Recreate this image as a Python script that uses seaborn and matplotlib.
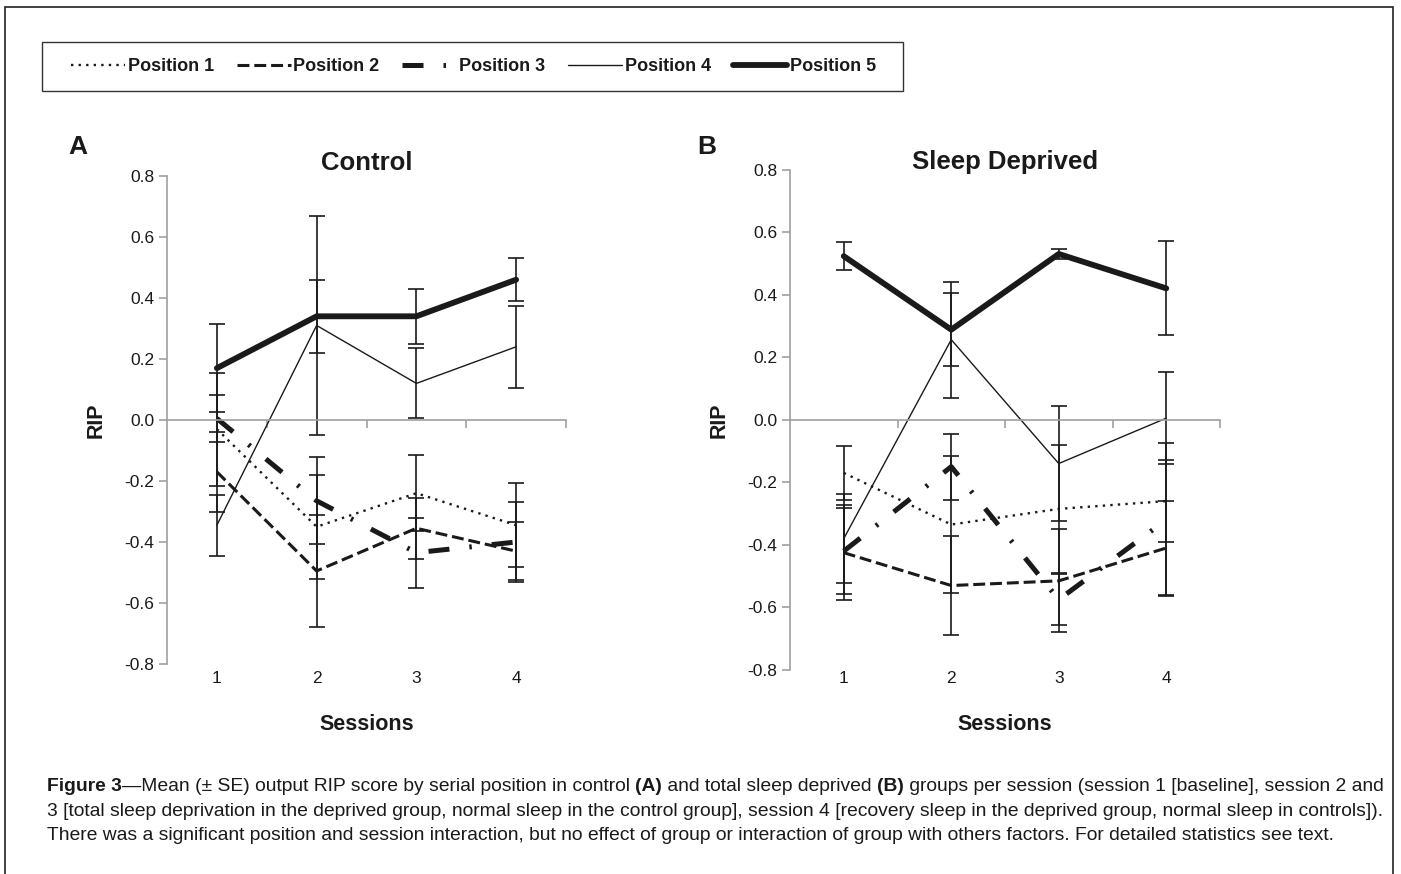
import numpy as np
import pandas as pd
import matplotlib
matplotlib.use("Agg")
import matplotlib.pyplot as plt
import seaborn as sns
from matplotlib import font_manager
from matplotlib.lines import Line2D
from matplotlib.patches import Rectangle

# ---------------- data ----------------
sessions = [1, 2, 3, 4]
positions = ["Position 1", "Position 2", "Position 3", "Position 4", "Position 5"]
ytick_values = [-0.8, -0.6, -0.4, -0.2, 0.0, 0.2, 0.4, 0.6, 0.8]

# Control (A): mean RIP per session, one row per serial position
ctrl_means = [
    [-0.03, -0.35, -0.24, -0.345],
    [-0.17, -0.495, -0.355, -0.43],
    [0.005, -0.265, -0.435, -0.40],
    [-0.345, 0.31, 0.12, 0.24],
    [0.17, 0.34, 0.34, 0.46],
]
ctrl_se = [
    [0.185, 0.17, 0.125, 0.137],
    [0.13, 0.185, 0.10, 0.095],
    [0.078, 0.143, 0.115, 0.13],
    [0.10, 0.36, 0.115, 0.135],
    [0.145, 0.12, 0.09, 0.07],
]
# Sleep deprived (B)
sd_means = [
    [-0.17, -0.335, -0.285, -0.26],
    [-0.425, -0.53, -0.515, -0.41],
    [-0.42, -0.15, -0.575, -0.32],
    [-0.38, 0.256, -0.14, 0.005],
    [0.523, 0.288, 0.53, 0.42],
]
sd_se = [
    [0.087, 0.22, 0.204, 0.13],
    [0.152, 0.157, 0.165, 0.15],
    [0.138, 0.105, 0.081, 0.245],
    [0.142, 0.185, 0.185, 0.147],
    [0.045, 0.117, 0.015, 0.15],
]

caption_line1 = [
    ("Figure 3", True),
    ("\u2014Mean (\u00b1 SE) output RIP score by serial position in control ", False),
    ("(A)", True),
    (" and total sleep deprived ", False),
    ("(B)", True),
    (" groups per session (session 1 [baseline], session 2 and", False),
]
caption_line2 = ("3 [total sleep deprivation in the deprived group, normal sleep in the control group], "
                 "session 4 [recovery sleep in the deprived group, normal sleep in controls]).")
caption_line3 = ("There was a significant position and session interaction, but no effect of group or "
                 "interaction of group with others factors. For detailed statistics see text.")

# ---------------- style ----------------
sns.set_theme(style="white")
names = {f.name for f in font_manager.fontManager.ttflist}
MAIN = "Liberation Sans" if "Liberation Sans" in names else "DejaVu Sans"
NARROW = "Liberation Sans Narrow" if "Liberation Sans Narrow" in names else MAIN
plt.rcParams["font.family"] = [MAIN, "DejaVu Sans"]
plt.rcParams["axes.unicode_minus"] = False

INK = "#1a1a1a"
GRAY = "#a0a0a0"

line_colors = {p: INK for p in positions}
line_dashes = {
    "Position 1": (1.0, 2.2),
    "Position 2": (3.9, 1.6),
    "Position 3": (4.2, 4.0, 0.5, 4.0),
    "Position 4": "",
    "Position 5": "",
}
line_widths = {
    "Position 1": 1.7,
    "Position 2": 2.2,
    "Position 3": 3.6,
    "Position 4": 1.0,
    "Position 5": 4.2,
}

W, H = 1401, 874
fig = plt.figure(figsize=(W / 100, H / 100), dpi=100)
fig.patch.set_facecolor("white")

axA = fig.add_axes([167 / W, 1 - 664 / H, (566 - 167) / W, (664 - 176) / H])
axB = fig.add_axes([790 / W, 1 - 670 / H, (1220 - 790) / W, (670 - 169.5) / H])


def long_df(means):
    rows = []
    for pos, vals in zip(positions, means):
        for s, v in zip(sessions, vals):
            rows.append((pos, s, v))
    return pd.DataFrame(rows, columns=["position", "session", "rip"])


def draw_panel(ax, means, ses, title, title_pad, xtick_pad, xlabel_pad):
    ax.set_facecolor("white")
    for m, e in zip(means, ses):
        ax.errorbar(sessions, m, yerr=e, fmt="none", ecolor=INK, elinewidth=1.2,
                    capsize=6, capthick=1.2, zorder=1.5)
    sns.lineplot(data=long_df(means), x="session", y="rip", hue="position",
                 style="position", size="position", palette=line_colors,
                 dashes=line_dashes, sizes=line_widths, legend=False,
                 estimator=None, errorbar=None, ax=ax, zorder=2)
    ax.set_xlim(0.5, 4.5)
    ax.set_ylim(-0.8, 0.8)
    ax.set_yticks(ytick_values)
    ax.set_yticklabels([f"{v:.1f}" for v in ytick_values])
    for s in ["top", "right"]:
        ax.spines[s].set_visible(False)
    ax.spines["left"].set_color(GRAY)
    ax.spines["left"].set_linewidth(1.2)
    ax.spines["bottom"].set_position(("data", 0))
    ax.spines["bottom"].set_color(GRAY)
    ax.spines["bottom"].set_linewidth(1.2)
    ax.set_xticks(sessions)
    ax.set_xticklabels([str(s) for s in sessions])
    ax.set_xticks([1.5, 2.5, 3.5, 4.5], minor=True)
    h_pts = ax.get_position().height * H / 100 * 72
    pad = h_pts * (0 - (-0.8)) / 1.6 + xtick_pad
    ax.tick_params(axis="x", which="major", length=0, pad=pad, labelsize=12.5, labelcolor=INK)
    ax.tick_params(axis="x", which="minor", length=6, width=1.2, direction="out",
                   color=GRAY, bottom=True)
    ax.tick_params(axis="y", which="major", length=6, width=1.2, direction="out",
                   color=GRAY, left=True, labelsize=12.5, labelcolor=INK, pad=3)
    ax.grid(False)
    ax.set_title(title, fontsize=18.5, fontweight="bold", color=INK, pad=title_pad)
    ax.set_xlabel("Sessions", fontsize=15.5, fontweight="bold", color=INK, labelpad=xlabel_pad)
    ax.set_ylabel("RIP", fontsize=15.5, fontweight="bold", color=INK, labelpad=13)


draw_panel(axA, ctrl_means, ctrl_se, "Control", 4, 5, 20)
draw_panel(axB, sd_means, sd_se, "Sleep Deprived", 0.5, 1, 20)

# panel letters
fig.text(68 / W, 1 - 154 / H, "A", fontsize=19, fontweight="bold", color=INK, va="baseline")
fig.text(697 / W, 1 - 154 / H, "B", fontsize=19, fontweight="bold", color=INK, va="baseline")

# legend box and legend
fig.add_artist(Rectangle((42 / W, 1 - 91 / H), (903 - 42) / W, 49 / H,
                         transform=fig.transFigure, fill=False, ec="#333333", lw=1.0))
handles = [Line2D([], [], color=INK, lw=line_widths[p], dashes=line_dashes[p])
           if line_dashes[p] else Line2D([], [], color=INK, lw=line_widths[p])
           for p in positions]
fig.legend(handles, positions, loc="center left", bbox_to_anchor=(71 / W, 1 - 66.5 / H),
           ncol=5, frameon=False, prop={"family": MAIN, "weight": "bold", "size": 13},
           handlelength=3.0, handletextpad=0.15, columnspacing=1.25, borderpad=0,
           borderaxespad=0, labelcolor=INK)

# outer frame
fig.add_artist(Rectangle((5 / W, -0.02), (1393 - 5) / W, 1.02 - 7 / H,
                         transform=fig.transFigure, fill=False, ec="#222222", lw=1.2))

# caption
cap_kw = dict(fontsize=13.85, color=INK, family=[NARROW, MAIN])
prev = None
for seg, bold in caption_line1:
    kw = dict(cap_kw, fontweight="bold" if bold else "normal")
    if prev is None:
        prev = fig.text(47 / W, 1 - 791 / H, seg, va="baseline", ha="left", **kw)
    else:
        prev = axA.annotate(seg, xy=(1, 0), xycoords=prev, va="bottom", ha="left",
                            annotation_clip=False, **kw)
fig.text(47 / W, 1 - 816 / H, caption_line2, va="baseline", ha="left", **cap_kw)
fig.text(47 / W, 1 - 840 / H, caption_line3, va="baseline", ha="left", **cap_kw)

fig.savefig("out.png", dpi=100, facecolor="white")
